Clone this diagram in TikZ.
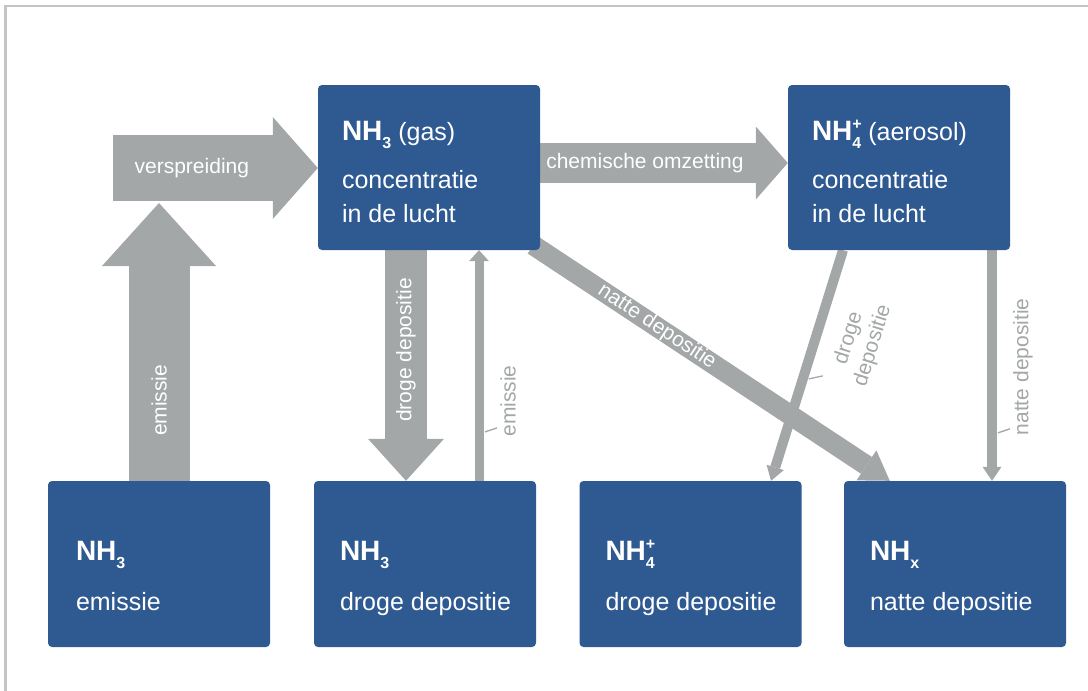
\documentclass[tikz,border=0pt]{standalone}
\usepackage{fontspec}
\setmainfont{Liberation Sans}
\usetikzlibrary{arrows.meta,positioning,calc,backgrounds}
\definecolor{stockblue}{HTML}{2E5991}
\definecolor{flowgrey}{HTML}{A3A7A7}
\definecolor{framegrey}{HTML}{C4C4C4}
\tikzset{
  >=Stealth,
  every node/.append style={font=\fontsize{21}{25}\selectfont},
}
\tikzset{
  stockbox/.style={fill=stockblue, draw=none, rounded corners=4pt, inner sep=0pt,
                   minimum width=222pt, minimum height=165pt},
  stocktext/.style={text=white, align=left, anchor=north west, inner sep=0pt,
                    font=\fontsize{25}{34}\selectfont},
  flow/.style n args={3}{draw=flowgrey, line width=#1,
                         -{Triangle[width=#2, length=#3, line width=0pt]}},
  flowlabel/.style={text=white, inner sep=0pt},
  sidelabel/.style={text=flowgrey, inner sep=0pt, align=center},
  pinline/.style={draw=flowgrey, line width=1.3pt}
}
\newcommand{\nhbold}[1]{{\fontsize{28}{34}\selectfont\bfseries NH#1}}
\newcommand{\chemsub}[1]{\raisebox{-8pt}{\fontsize{16}{16}\selectfont #1}}
\newcommand{\chemsup}[1]{\raisebox{11pt}{\fontsize{16}{16}\selectfont #1}}

\begin{document}
\begin{tikzpicture}[x=1pt, y=-1pt]
\useasboundingbox (0,0) rectangle (1088,691);

% frame of the figure
\draw[framegrey, line width=2.5pt] (5.5,691) -- (5.5,6) -- (1088,6);

% boxes in the air
\node[stockbox] (gas) at (429,167.5) {};
\node[stockbox] (aerosol) at (899,167.5) {};

% boxes at the ground
\node[stockbox, minimum height=166pt] (emis) at (159,564) {};
\node[stockbox, minimum height=166pt] (droog) at (425,564) {};
\node[stockbox, minimum height=166pt] (nh4) at (690.5,564) {};
\node[stockbox, minimum height=166pt] (nhx) at (955,564) {};

% texts in the boxes
\node[stocktext] (gas-t) at ([xshift=24pt,yshift=-31pt]gas.north west)
  {\rule{0pt}{24pt}\nhbold{\chemsub{3}} (gas)\\[14pt]concentratie\\in de lucht};
\node[stocktext] (aerosol-t) at ([xshift=24pt,yshift=-31pt]aerosol.north west)
  {\rule{0pt}{24pt}\nhbold{\rlap{\chemsup{+}}\chemsub{4}} (aerosol)\\[14pt]concentratie\\in de lucht};
\node[stocktext] (emis-t) at ([xshift=28pt,yshift=-55pt]emis.north west)
  {\rule{0pt}{24pt}\nhbold{\chemsub{3}}\\[16pt]emissie};
\node[stocktext] (droog-t) at ([xshift=26pt,yshift=-55pt]droog.north west)
  {\rule{0pt}{24pt}\nhbold{\chemsub{3}}\\[16pt]droge depositie};
\node[stocktext] (nh4-t) at ([xshift=26pt,yshift=-55pt]nh4.north west)
  {\rule{0pt}{24pt}\nhbold{\rlap{\chemsup{+}}\chemsub{4}}\\[16pt]droge depositie};
\node[stocktext] (nhx-t) at ([xshift=26pt,yshift=-55pt]nhx.north west)
  {\rule{0pt}{24pt}\nhbold{\chemsub{x}}\\[16pt]natte depositie};

% end points of the flows
\coordinate (spread) at (113,168);
\coordinate (spread-low) at (159,203);
\coordinate (em-a) at ([xshift=54pt]droog.north);
\coordinate (em-b) at (em-a |- gas.south);
\coordinate (dd-a) at ([xshift=-56pt]aerosol.south);
\coordinate (dd-b) at ([xshift=80.5pt]nh4.north);
\coordinate (nd-a) at ([xshift=93pt]aerosol.south);
\coordinate (nd-b) at (nd-a |- nhx.north);

\begin{scope}[on background layer]
% broad flows
\draw[flow={66pt}{102pt}{45pt}] (spread) -- node[flowlabel, pos=0.385] {verspreiding} (spread -| gas.west);
\draw[flow={61pt}{114pt}{63pt}] (emis.north) -- node[flowlabel, pos=0.29, rotate=90] {emissie} (spread-low);
\draw[flow={40pt}{73pt}{32pt}] ([yshift=4.5pt]gas.east) -- node[flowlabel, pos=0.423] {chemische omzetting} ([yshift=4.5pt]aerosol.west);
\draw[flow={42pt}{76pt}{42pt}] ([xshift=-23pt]gas.south) -- node[flowlabel, pos=0.433, rotate=90] {droge depositie} ([xshift=-19pt]droog.north);
\draw[flow={20pt}{36pt}{28pt}] ([xshift=-7pt,yshift=5pt]gas.south east) -- node[flowlabel, pos=0.347, sloped] {natte depositie} ([xshift=46pt]nhx.north west);

% narrow flows
\draw[flow={9pt}{20pt}{11pt}] (em-a) -- (em-b);
\draw[flow={10pt}{18pt}{14pt}] (dd-a) -- (dd-b);
\draw[flow={10pt}{19pt}{14pt}] (nd-a) -- (nd-b);
\end{scope}

% labels beside the narrow flows
\node[sidelabel, rotate=90] (em-l) at ($(em-a)!0.346!(em-b)+(29,0)$) {emissie};
\draw[pinline] ($(em-a)!0.212!(em-b)+(6,0)$) -- ++(12,-4);
\node[sidelabel, rotate=72.7] (dd-l) at ($(dd-a)!0.341!(dd-b)+(42.5,13.2)$) {droge\\depositie};
\draw[pinline] ($(dd-a)!0.558!(dd-b)+(6,0)$) -- ++(14,-3);
\node[sidelabel, rotate=90] (nd-l) at ($(nd-a)!0.506!(nd-b)+(31,0)$) {natte depositie};
\draw[pinline] ($(nd-a)!0.792!(nd-b)+(6,0)$) -- ++(12,-4);

\end{tikzpicture}
\end{document}
